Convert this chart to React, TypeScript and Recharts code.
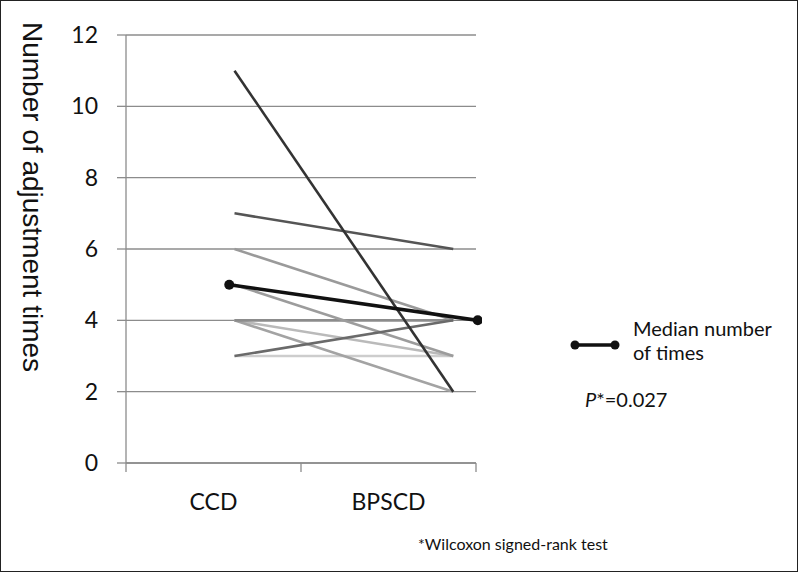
import React from "react";
import { LineChart, Line, XAxis, YAxis, CartesianGrid } from "recharts";

// paired values for each subject: CCD -> BPSCD
const ccdValues = [3, 4, 4, 4, 5, 6, 3, 7, 11];
const bpscdValues = [3, 3, 2, 4, 3, 4, 4, 6, 2];
const lineColors = ["#cdcdcd", "#bababa", "#a3a3a3", "#8c8c8c", "#9c9c9c", "#9a9a9a", "#6a6a6a", "#555555", "#333333"];

// median line
const medianValues = [5, 4];

// x positions of the two measurements (axis runs 0..2, categories centred at 0.5 and 1.5)
const subjectX = [0.62, 1.87];
const medianX = [0.59, 2.01];

const categories = ["CCD", "BPSCD"];
const categoryTicks = [0, 0.5, 1, 1.5, 2];
const yTicks = [0, 2, 4, 6, 8, 10, 12];

const GRID = "#8c8c8c";
const FONT = "Lato, 'Liberation Sans', sans-serif";

function XTick(props: any) {
  const { x, y, payload } = props;
  const v = payload.value;
  if (Number.isInteger(v)) {
    return <line x1={x} y1={y} x2={x} y2={y + 9} stroke={GRID} strokeWidth={1.3} />;
  }
  return (
    <text x={x} y={y + 47} textAnchor="middle" fontFamily={FONT} fontSize={23} fill="#111">
      {categories[Math.floor(v)]}
    </text>
  );
}

export default function App() {
  const subjects = ccdValues.map((c, i) => [
    { x: subjectX[0], y: c },
    { x: subjectX[1], y: bpscdValues[i] },
  ]);
  const median = medianValues.map((v, i) => ({ x: medianX[i], y: v }));

  return (
    <div style={{ position: "fixed", left: 0, top: 0, width: 798, height: 572, background: "#fff", overflow: "hidden" }}>
      <LineChart width={798} height={572} margin={{ top: 35, right: 322, left: 0, bottom: 0 }}>
        <CartesianGrid horizontal vertical={false} stroke={GRID} strokeWidth={1.3} />
        <XAxis
          type="number"
          dataKey="x"
          domain={[0, 2]}
          allowDataOverflow
          ticks={categoryTicks}
          interval={0}
          tick={<XTick />}
          tickLine={false}
          tickSize={0}
          tickMargin={0}
          height={109}
          axisLine={{ stroke: GRID, strokeWidth: 1.3 }}
        />
        <YAxis
          type="number"
          domain={[0, 12]}
          ticks={yTicks}
          interval={0}
          width={126}
          tickSize={9}
          tickMargin={19}
          tickLine={{ stroke: GRID, strokeWidth: 1.3 }}
          axisLine={{ stroke: GRID, strokeWidth: 1.3 }}
          tick={{ fontFamily: FONT, fontSize: 23, fill: "#111" }}
        />
        {subjects.map((d, i) => (
          <Line
            key={i}
            data={d}
            dataKey="y"
            type="linear"
            stroke={lineColors[i]}
            strokeWidth={2.6}
            dot={false}
            activeDot={false}
            isAnimationActive={false}
          />
        ))}
        <Line
          data={median}
          dataKey="y"
          type="linear"
          stroke="#111"
          strokeWidth={3.6}
          dot={{ r: 5, fill: "#111", stroke: "none", clipDot: false }}
          activeDot={false}
          isAnimationActive={false}
        />
      </LineChart>

      {/* y axis title */}
      <svg width={60} height={572} style={{ position: "absolute", left: 0, top: 0 }}>
        <text x={23} y={197} transform="rotate(90 23 197)" textAnchor="middle" fontFamily="'Liberation Sans', Arial, sans-serif" fontSize={28} fill="#111">
          Number of adjustment times
        </text>
      </svg>

      {/* legend */}
      <svg width={50} height={20} style={{ position: "absolute", left: 570, top: 335 }}>
        <line x1={5} y1={10} x2={45} y2={10} stroke="#111" strokeWidth={3.6} />
        <circle cx={5} cy={10} r={4.5} fill="#111" />
        <circle cx={45} cy={10} r={4.5} fill="#111" />
      </svg>
      <div style={{ position: "absolute", left: 633, top: 316, fontFamily: FONT, fontSize: 20, lineHeight: "24px", color: "#111" }}>
        Median number
        <br />
        of times
      </div>
      <div style={{ position: "absolute", left: 585, top: 387, fontFamily: FONT, fontSize: 20, color: "#111" }}>
        <i>P</i>*=0.027
      </div>
      <div style={{ position: "absolute", left: 418, top: 534, fontFamily: FONT, fontSize: 16, color: "#111" }}>
        *Wilcoxon signed-rank test
      </div>

      <div style={{ position: "absolute", inset: 0, border: "1px solid #222", pointerEvents: "none" }} />
    </div>
  );
}
